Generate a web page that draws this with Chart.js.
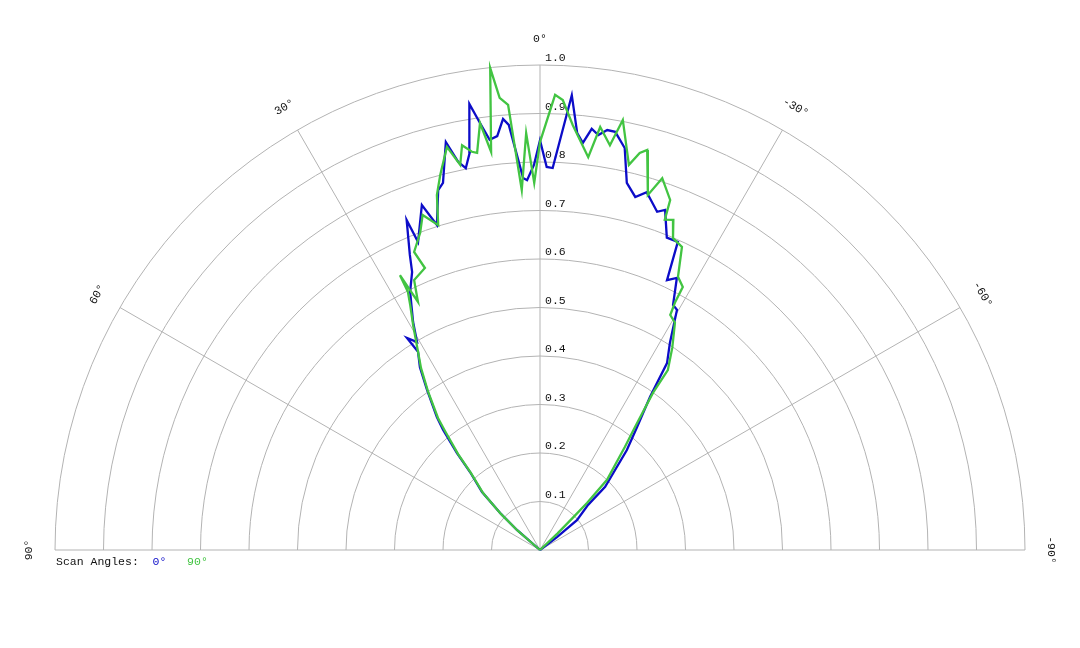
<!DOCTYPE html>
<html>
<head>
<meta charset="utf-8">
<title>Scan Angles polar plot</title>
<script src="https://cdn.jsdelivr.net/npm/chart.js@4/dist/chart.umd.min.js"></script>
<style>
  html, body { margin: 0; padding: 0; background: #fff; }
  canvas { display: block; }
</style>
</head>
<body>
<canvas id="polarChart" width="1080" height="648"></canvas>
<script>
// angle ticks (degrees, positive to the left) and radial ticks
var angleTicks = [90, 60, 30, 0, -30, -60, -90];
var radialTicks = [0.1, 0.2, 0.3, 0.4, 0.5, 0.6, 0.7, 0.8, 0.9, 1.0];
var radialTickLabels = ['0.1', '0.2', '0.3', '0.4', '0.5', '0.6', '0.7', '0.8', '0.9', '1.0'];
var seriesLabels = ['0°', '90°'];

// scan angle 0° : (angle, radius) pairs
var scan0Angle = [54, 49.0, 47.2, 45.0, 41.9, 40.6, 38.9, 37.8, 35.2, 33.3, 31.6, 32.1, 30.6, 29.1, 26.7, 24.7, 23.8, 22.0, 21.6, 18.9,
    17.6, 15.8, 14.8, 13.0, 11.9, 11.0, 10.0, 9.0, 8.0, 7.0, 5.9, 4.9, 4.2, 2.6, 2.0, 0.9, 0, -1.0, -1.9, -4.0,
    -5.1, -6.0, -7.0, -8.0, -9.1, -10.2, -11.9, -13.3, -15.1, -16.6, -19.1, -20.2, -22.1, -24.1, -25.2, -26.7, -28.5, -29.7, -32.1, -34.2,
    -35.7, -38.3, -41.0, -45.9, -46.8, -51.0, -52.6, -54];
var scan0R = [0, 0.063, 0.112, 0.169, 0.216, 0.263, 0.318, 0.347, 0.404, 0.451, 0.480, 0.516, 0.498, 0.538, 0.596, 0.631, 0.665, 0.734, 0.683, 0.752,
    0.703, 0.771, 0.783, 0.863, 0.818, 0.802, 0.833, 0.931, 0.889, 0.852, 0.858, 0.892, 0.879, 0.768, 0.763, 0.794, 0.845, 0.790, 0.788, 0.940,
    0.863, 0.844, 0.875, 0.864, 0.877, 0.876, 0.847, 0.778, 0.754, 0.770, 0.738, 0.747, 0.695, 0.696, 0.615, 0.628, 0.575, 0.570, 0.504, 0.466,
    0.389, 0.323, 0.273, 0.187, 0.136, 0.098, 0.044, 0];

// scan angle 90°
var scan90Angle = [54, 49.2, 47.3, 45.0, 41.9, 40.5, 38.6, 37.7, 35.2, 33.2, 31.6, 29.4, 27.9, 27.1, 27.0, 26.2, 25.0, 22.2, 22.9, 20.7,
    19.3, 17.4, 16.2, 14.9, 13.0, 11.7, 10.9, 9.7, 9.0, 8.0, 7.0, 5.9, 5.1, 4.1, 2.9, 1.9, 0.9, 0, -1.9, -2.9,
    -4.4, -7.0, -8.1, -9.8, -10.9, -13.0, -14.1, -15.0, -16.9, -18.2, -20.4, -20.7, -22.0, -23.1, -25.1, -26.8, -28.5, -28.6, -29.0, -30.7,
    -33.2, -35.4, -35.7, -37.7, -39.5, -43.7, -45.0, -45.5, -46.5, -54];
var scan90R = [0, 0.060, 0.109, 0.166, 0.213, 0.260, 0.314, 0.344, 0.401, 0.448, 0.480, 0.533, 0.572, 0.598, 0.636, 0.570, 0.614, 0.628, 0.667, 0.699,
    0.732, 0.702, 0.762, 0.800, 0.853, 0.811, 0.850, 0.833, 0.829, 0.889, 0.827, 0.999, 0.936, 0.920, 0.743, 0.860, 0.757, 0.841, 0.939, 0.929,
    0.879, 0.816, 0.881, 0.847, 0.903, 0.815, 0.844, 0.854, 0.765, 0.807, 0.770, 0.728, 0.734, 0.699, 0.690, 0.631, 0.617, 0.582, 0.554, 0.545,
    0.498, 0.455, 0.399, 0.320, 0.275, 0.200, 0.137, 0.096, 0.050, 0];

var FONT = '11.5px "Liberation Mono", "DejaVu Sans Mono", monospace';

// polar -> cartesian (0° is up, positive angles to the left)
function toXY(angles, radii) {
    return angles.map(function (a, i) {
        var t = a * Math.PI / 180;
        return { x: -radii[i] * Math.sin(t), y: radii[i] * Math.cos(t) };
    });
}

var polarGrid = {
    id: 'polarGrid',
    beforeDatasetsDraw: function (chart) {
        var ctx = chart.ctx;
        var xs = chart.scales.x, ys = chart.scales.y;
        var cx = xs.getPixelForValue(0), cy = ys.getPixelForValue(0);
        var rad = function (v) { return xs.getPixelForValue(v) - cx; };
        var R = rad(1);

        ctx.save();
        ctx.strokeStyle = '#b3b3b3';
        ctx.lineWidth = 1;

        // rings
        radialTicks.forEach(function (r) {
            ctx.beginPath();
            ctx.arc(cx, cy, rad(r), Math.PI, 2 * Math.PI);
            ctx.stroke();
        });

        // baseline and spokes
        ctx.beginPath();
        ctx.moveTo(cx - R, cy);
        ctx.lineTo(cx + R, cy);
        angleTicks.forEach(function (a) {
            if (Math.abs(a) === 90) return;
            var t = a * Math.PI / 180;
            ctx.moveTo(cx, cy);
            ctx.lineTo(cx - R * Math.sin(t), cy - R * Math.cos(t));
        });
        ctx.stroke();

        ctx.font = FONT;
        ctx.fillStyle = '#111';

        // radial tick labels
        ctx.textAlign = 'left';
        ctx.textBaseline = 'bottom';
        radialTicks.forEach(function (r, i) {
            ctx.fillText(radialTickLabels[i], cx + 5, cy - rad(r) - 1);
        });

        // angle labels
        ctx.textAlign = 'center';
        ctx.textBaseline = 'middle';
        angleTicks.forEach(function (a) {
            var t = a * Math.PI / 180;
            ctx.save();
            ctx.translate(cx - (R + 26) * Math.sin(t), cy - (R + 26) * Math.cos(t));
            ctx.rotate(-t);
            ctx.fillText(a + '°', 0, 0);
            ctx.restore();
        });

        // legend
        ctx.textAlign = 'left';
        var lx = cx - R + 1, ly = cy + 12;
        ctx.fillText('Scan Angles:', lx, ly);
        lx += ctx.measureText('Scan Angles:  ').width;
        chart.data.datasets.forEach(function (ds) {
            ctx.fillStyle = ds.borderColor;
            ctx.fillText(ds.label, lx, ly);
            lx += ctx.measureText(ds.label + '   ').width;
        });
        ctx.restore();
    }
};

var ctx = document.getElementById('polarChart').getContext('2d');
var polarChart = new Chart(ctx, {
    type: 'scatter',
    data: {
        datasets: [
            {
                label: seriesLabels[0],
                data: toXY(scan0Angle, scan0R),
                borderColor: '#0c0cc8',
                borderWidth: 2.3,
                showLine: true,
                pointRadius: 0,
                tension: 0,
                clip: false,
                order: 2
            },
            {
                label: seriesLabels[1],
                data: toXY(scan90Angle, scan90R),
                borderColor: '#42c442',
                borderWidth: 2.3,
                showLine: true,
                pointRadius: 0,
                tension: 0,
                clip: false,
                order: 1
            }
        ]
    },
    options: {
        responsive: false,
        animation: false,
        devicePixelRatio: 1,
        layout: { padding: { left: 55, right: 55, top: 65, bottom: 98 } },
        scales: {
            x: { type: 'linear', min: -1, max: 1, display: false },
            y: { type: 'linear', min: 0, max: 1, display: false }
        },
        plugins: {
            legend: { display: false },
            tooltip: { enabled: false }
        }
    },
    plugins: [polarGrid]
});
</script>
</body>
</html>
